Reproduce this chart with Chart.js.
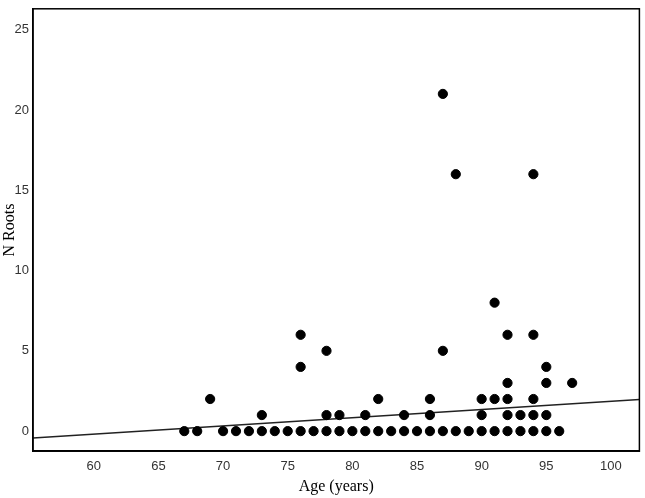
<!DOCTYPE html><html><head><script src="https://cdn.jsdelivr.net/npm/chart.js@4"></script>
<style>html,body{margin:0;background:#fff}#w{width:645px;height:498px}</style></head><body><div id="w"><canvas id="c"></canvas></div>
<script>
const ages0=[67,68,70,71,72,73,74,75,76,77,78,79,80,81,82,83,84,85,86,87,88,89,90,91,92,93,94,95,96];
const ages1=[73,78,79,81,84,86,90,92,93,94,95];
const ages2=[69,82,86,90,91,92,94];
const ages3=[92,95,97];
const ages4=[76,95];
const ages5=[78,87];
const ages6=[76,92,94];
const ages8=[91];
const ages16=[88,94];
const ages21=[87];
const fitX=[55.3,102.2], fitY=[-0.43,1.97];
const groups=[[0,ages0],[1,ages1],[2,ages2],[3,ages3],[4,ages4],[5,ages5],[6,ages6],[8,ages8],[16,ages16],[21,ages21]];
const pts=[];groups.forEach(([v,a])=>a.forEach(x=>pts.push({x:x,y:v})));
const frame={id:'frame',afterDraw(c){const a=c.chartArea,g=c.ctx;g.save();g.strokeStyle='#000';g.lineWidth=1.5;g.strokeRect(a.left,a.top,a.right-a.left,a.bottom-a.top);g.restore();}};
new Chart(document.getElementById('c'),{type:'scatter',data:{datasets:[
{data:pts,backgroundColor:'#000',borderColor:'#000',pointRadius:4.6,pointHoverRadius:4.6},
{type:'line',data:fitX.map((x,i)=>({x:x,y:fitY[i]})),borderColor:'#222',borderWidth:1.5,pointRadius:0,fill:false}]},
options:{responsive:true,maintainAspectRatio:false,animation:false,layout:{padding:{top:2,right:1,bottom:0}},
plugins:{legend:{display:false},tooltip:{enabled:false}},
scales:{x:{type:'linear',min:55.3,max:102.2,afterBuildTicks(s){s.ticks=[60,65,70,75,80,85,90,95,100].map(v=>({value:v}))},
grid:{display:false,drawTicks:true,tickLength:4,color:'#000'},border:{color:'#000',width:1.5},
ticks:{color:'#333',font:{family:'Liberation Sans',size:13}},
title:{display:true,text:'Age (years)',color:'#000',font:{family:'Liberation Serif',size:16},padding:{top:0,bottom:2}}},
y:{min:-1.25,max:26.3,afterBuildTicks(s){s.ticks=[0,5,10,15,20,25].map(v=>({value:v}))},afterFit(s){s.width=33},
grid:{display:false,drawTicks:true,tickLength:3,color:'#000'},border:{color:'#000',width:1.5},
ticks:{color:'#333',font:{family:'Liberation Sans',size:13},padding:1},
title:{display:true,text:'N Roots',color:'#000',font:{family:'Liberation Serif',size:16},padding:0}}}},
plugins:[frame]});
</script></body></html>
